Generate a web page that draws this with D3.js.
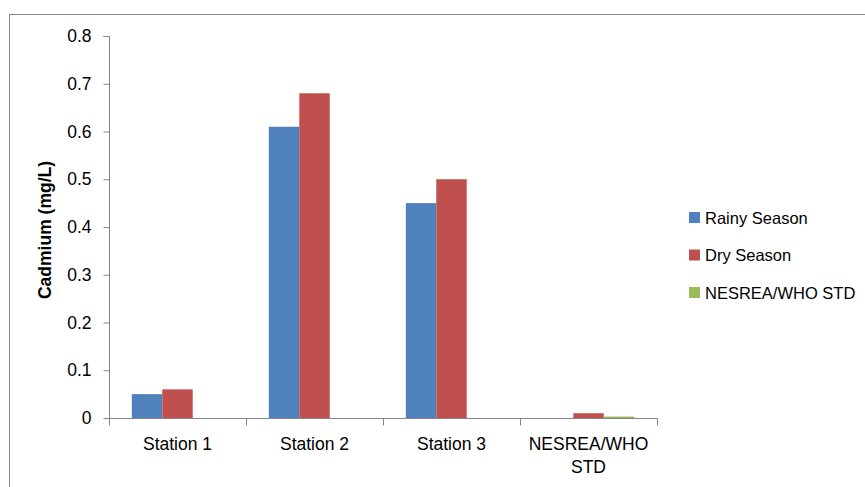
<!DOCTYPE html>
<html>
<head>
<meta charset="utf-8">
<script src="https://cdn.jsdelivr.net/npm/d3@7"></script>
<style>
  html, body { margin: 0; padding: 0; background: #fff; }
  svg { display: block; font-family: "Liberation Sans", Arial, sans-serif; }
</style>
</head>
<body>
<svg id="chart" width="865" height="487"></svg>
<script>
// Cadmium concentration by sampling station and season
const categories = ["Station 1", "Station 2", "Station 3", "NESREA/WHO STD"];
const seriesNames = ["Rainy Season", "Dry Season", "NESREA/WHO STD"];
const rainy = [0.05, 0.61, 0.45, 0];
const dry = [0.06, 0.68, 0.50, 0.01];
const standard = [0, 0, 0, 0.003];
const yTicks = [0, 0.1, 0.2, 0.3, 0.4, 0.5, 0.6, 0.7, 0.8];
const colors = ["#4F81BD", "#C0504D", "#9BBB59"];

const seriesValues = [rainy, dry, standard];
const axisColor = "#868686";

const svg = d3.select("#chart");

// outer chart frame (runs off the right and bottom edges)
svg.append("rect")
  .attr("x", 9.5).attr("y", 14.5)
  .attr("width", 1000).attr("height", 1000)
  .attr("fill", "none").attr("stroke", axisColor).attr("stroke-width", 1);

const plot = { left: 109, right: 657, top: 36, bottom: 418 };

const x = d3.scaleBand()
  .domain(categories)
  .range([plot.left, plot.right])
  .paddingInner(0).paddingOuter(0);

const xSub = d3.scaleBand()
  .domain(seriesNames)
  .range([0, x.bandwidth()])
  .paddingInner(0).paddingOuter(0.75);

const y = d3.scaleLinear().domain([0, 0.8]).range([plot.bottom, plot.top]);

// bars
const groups = svg.append("g").selectAll("g")
  .data(seriesNames)
  .join("g")
  .attr("fill", (d, i) => colors[i]);

groups.selectAll("rect")
  .data((s, si) => categories.map((c, ci) => ({ s, c, v: seriesValues[si][ci] })))
  .join("rect")
  .attr("x", d => x(d.c) + xSub(d.s))
  .attr("width", xSub.bandwidth())
  .attr("y", d => y(d.v))
  .attr("height", d => y(0) - y(d.v));

// y axis
const yAxis = svg.append("g")
  .attr("transform", `translate(${plot.left + 0.5},0)`)
  .call(d3.axisLeft(y).tickValues(yTicks).tickSize(6).tickPadding(12)
    .tickFormat(d => d === 0 ? "0" : d3.format(".1f")(d)));
yAxis.select(".domain").attr("stroke", axisColor)
  .attr("d", `M-6,${y(0.8) + 0.5}H0V${plot.bottom + 7}`);
yAxis.selectAll(".tick line").attr("stroke", axisColor);
yAxis.selectAll(".tick text")
  .attr("fill", "#000").attr("font-size", 17.5)
  .attr("font-family", "Liberation Sans, Arial, sans-serif");

// x axis with ticks between categories
const xAxisG = svg.append("g").attr("transform", `translate(0,${plot.bottom + 0.5})`);
xAxisG.append("line")
  .attr("x1", plot.left).attr("x2", plot.right + 0.5)
  .attr("stroke", axisColor);
const boundaries = categories.map(c => x(c)).concat([x(categories[categories.length - 1]) + x.bandwidth()]);
xAxisG.selectAll("line.tk")
  .data(boundaries)
  .join("line").attr("class", "tk")
  .attr("x1", d => Math.round(d) + 0.5).attr("x2", d => Math.round(d) + 0.5)
  .attr("y1", 0).attr("y2", 7)
  .attr("stroke", axisColor);

// category labels, wrapped onto two lines where needed
const catLines = { "NESREA/WHO STD": ["NESREA/WHO", "STD"] };
const labels = svg.append("g").selectAll("text")
  .data(categories)
  .join("text")
  .attr("text-anchor", "middle")
  .attr("font-size", 17.5)
  .attr("fill", "#000")
  .attr("x", d => x(d) + x.bandwidth() / 2)
  .attr("y", 450);
labels.each(function (d) {
  const lines = catLines[d] || [d];
  const t = d3.select(this);
  lines.forEach((ln, i) => {
    t.append("tspan")
      .attr("x", x(d) + x.bandwidth() / 2)
      .attr("dy", i === 0 ? 0 : 23)
      .text(ln);
  });
});

// y axis title
svg.append("text")
  .attr("transform", `translate(51,${(plot.top + plot.bottom) / 2 + 3}) rotate(-90)`)
  .attr("text-anchor", "middle")
  .attr("font-size", 17.5)
  .attr("font-weight", "bold")
  .attr("fill", "#000")
  .text("Cadmium (mg/L)");

// legend
const legend = svg.append("g").selectAll("g")
  .data(seriesNames)
  .join("g")
  .attr("transform", (d, i) => `translate(689,${212 + i * 37.5})`);
legend.append("rect")
  .attr("width", 11).attr("height", 11)
  .attr("fill", (d, i) => colors[i]);
legend.append("text")
  .attr("x", 16).attr("y", 11.5)
  .attr("font-size", 16.5)
  .attr("fill", "#000")
  .text(d => d);
</script>
</body>
</html>
